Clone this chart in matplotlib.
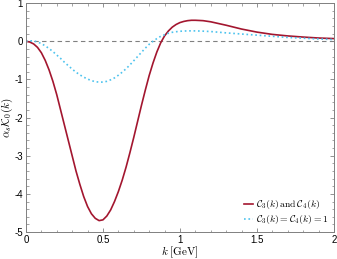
import matplotlib
matplotlib.use("Agg")
import matplotlib.pyplot as plt
from matplotlib.ticker import MultipleLocator

plt.rcParams['font.family'] = ['Liberation Sans', 'DejaVu Sans']
plt.rcParams['mathtext.fontset'] = 'cm'
plt.rcParams['axes.unicode_minus'] = False

# values
k = [0.0, 0.025, 0.05, 0.075, 0.1, 0.125, 0.15, 0.175, 0.2, 0.225, 0.25,
     0.275, 0.3, 0.325, 0.35, 0.375, 0.4, 0.425, 0.45, 0.475, 0.5, 0.525,
     0.55, 0.575, 0.6, 0.625, 0.65, 0.675, 0.7, 0.725, 0.75, 0.775, 0.8,
     0.825, 0.85, 0.875, 0.9, 0.925, 0.95, 0.975, 1.0, 1.025, 1.05, 1.075,
     1.1, 1.15, 1.2, 1.3, 1.4, 1.5, 1.6, 1.7, 1.8, 1.9, 2.0]
k0_full = [0.0, -0.02, -0.07, -0.16, -0.3, -0.5, -0.75, -1.05, -1.4, -1.8,
           -2.2, -2.6, -3.0, -3.4, -3.75, -4.07, -4.33, -4.52, -4.64, -4.7,
           -4.68, -4.58, -4.42, -4.2, -3.94, -3.64, -3.3, -2.92, -2.52, -2.1,
           -1.68, -1.28, -0.9, -0.57, -0.28, -0.04, 0.14, 0.27, 0.37, 0.44,
           0.49, 0.52, 0.54, 0.55, 0.55, 0.54, 0.51, 0.42, 0.32, 0.24, 0.18,
           0.14, 0.11, 0.085, 0.07]
k0_unit = [0.0, 0.01, 0.01, -0.02, -0.06, -0.12, -0.19, -0.27, -0.36, -0.45,
           -0.55, -0.64, -0.73, -0.81, -0.88, -0.94, -0.99, -1.03, -1.06,
           -1.07, -1.07, -1.05, -1.01, -0.96, -0.89, -0.81, -0.72, -0.62,
           -0.51, -0.40, -0.29, -0.18, -0.08, 0.0, 0.07, 0.13, 0.17, 0.21,
           0.235, 0.25, 0.262, 0.268, 0.272, 0.273, 0.272, 0.265, 0.255, 0.22,
           0.19, 0.16, 0.13, 0.10, 0.08, 0.06, 0.045]

fig = plt.figure(figsize=(3.37, 2.59), dpi=100)
ax = fig.add_axes([0.077, 0.104, 0.914, 0.884])

ax.axhline(0, color='#808080', ls='--', lw=0.8, dashes=(4, 3))
ax.plot(k, k0_full, color='#A3162F', lw=1.2,
        label=r'$\mathcal{C}_3(k)\,\mathrm{and}\,\mathcal{C}_4(k)$')
ax.plot(k, k0_unit, color='#4DC3EE', lw=1.2, ls=':',
        label=r'$\mathcal{C}_3(k)=\mathcal{C}_4(k)=1$')

ax.set_xlim(0, 2)
ax.set_ylim(-5, 1)
ax.set_xticks([0, 0.5, 1, 1.5, 2])
ax.set_xticklabels(['0', '0.5', '1', '1.5', '2'])
ax.xaxis.set_minor_locator(MultipleLocator(0.1))
ax.yaxis.set_major_locator(MultipleLocator(1))
ax.yaxis.set_minor_locator(MultipleLocator(0.2))
ax.tick_params(which='both', direction='in', top=True, right=True,
               labelsize=7, color='#808080', pad=2)
ax.tick_params(which='major', length=3, width=0.6)
ax.tick_params(which='minor', length=1.8, width=0.5)
for s in ax.spines.values():
    s.set_color('#808080')
    s.set_linewidth(0.7)

ax.set_xlabel(r'$k\;[\mathrm{GeV}]$', fontsize=8, labelpad=0)
ax.set_ylabel(r'$\alpha_s\mathcal{K}_0(k)$', fontsize=8, labelpad=0)

ax.legend(loc='lower right', frameon=False, fontsize=7, handlelength=0.9,
          handletextpad=0.3, labelspacing=0.2, borderaxespad=0.2)

fig.savefig('out.png', dpi=100)
